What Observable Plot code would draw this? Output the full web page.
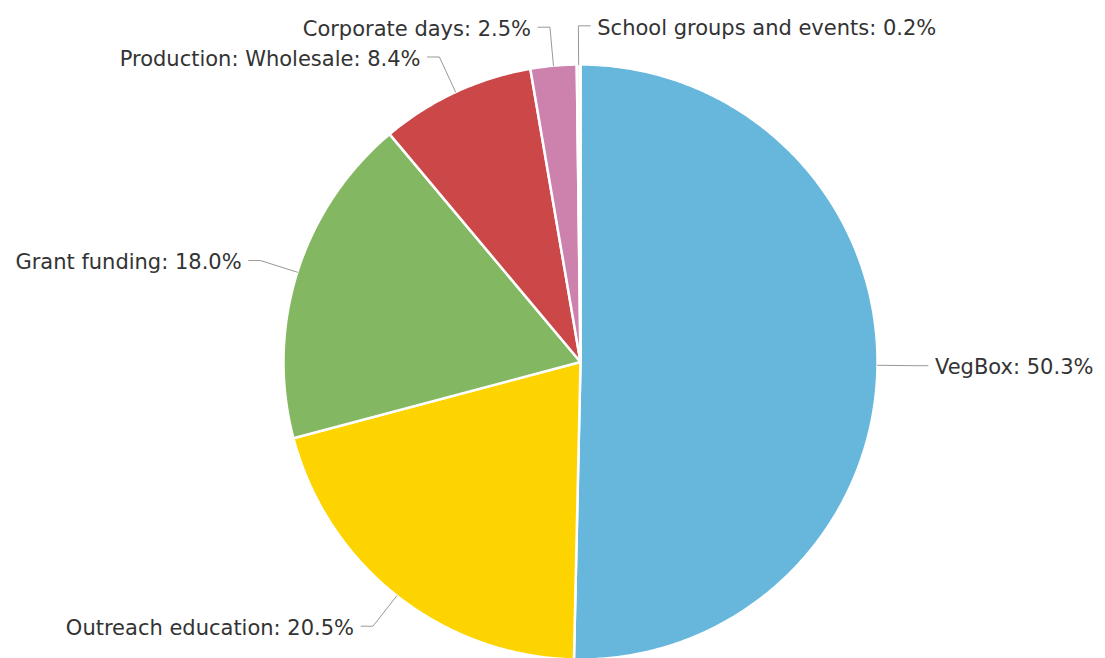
<!DOCTYPE html>
<html><head><meta charset="utf-8">
<script src="https://cdn.jsdelivr.net/npm/d3@7"></script>
<script src="https://cdn.jsdelivr.net/npm/@observablehq/plot@0.6"></script>
<style>body{margin:0;background:#fff;}</style>
</head><body><div id="chart"></div>
<script>
const categories = ["VegBox", "Outreach education", "Grant funding", "Production: Wholesale", "Corporate days", "School groups and events"];
const values = [50.3, 20.5, 18.0, 8.4, 2.5, 0.2];
const colors = ["#67b7dc", "#fdd400", "#84b761", "#cc4748", "#cd82ad", "#f6f6f6"];

const total = d3.sum(values);
let acc = 0;
const slices = categories.map((name, i) => {
  const start = acc / total * 2 * Math.PI;
  acc += values[i];
  const end = acc / total * 2 * Math.PI;
  return {name, value: values[i], start, end, mid: (start + end) / 2};
});

// polygon outline of each slice (unit circle, angle clockwise from top)
const polyPoints = [];
for (const s of slices) {
  polyPoints.push({name: s.name, x: 0, y: 0});
  const n = Math.max(2, Math.ceil((s.end - s.start) / (Math.PI / 360)));
  for (let k = 0; k <= n; k++) {
    const a = s.start + (s.end - s.start) * k / n;
    polyPoints.push({name: s.name, x: Math.sin(a), y: Math.cos(a)});
  }
  polyPoints.push({name: s.name, x: 0, y: 0});
}

// label layout
const R1 = 1.13, SEG = 0.04;
const labelInfo = slices.map(s => ({
  ...s,
  side: Math.sin(s.mid) >= 0 ? 1 : -1,
  ey: R1 * Math.cos(s.mid),
  ex: R1 * Math.sin(s.mid)
}));
// resolve collisions near top on the left side by flipping to the right
const left = labelInfo.filter(d => d.side < 0).sort((a, b) => b.ey - a.ey);
for (let i = 0; i < left.length - 1; i++) {
  const a = left[i], b = left[i + 1];
  if (Math.abs(a.ey - b.ey) < 0.08) {
    const flip = Math.abs(Math.sin(a.mid)) < Math.abs(Math.sin(b.mid)) ? a : b;
    flip.side = 1;
  }
}
const leaderPoints = [];
for (const d of labelInfo) {
  leaderPoints.push({name: d.name, x: Math.sin(d.mid), y: Math.cos(d.mid)});
  leaderPoints.push({name: d.name, x: d.ex, y: d.ey});
  leaderPoints.push({name: d.name, x: d.ex + d.side * SEG, y: d.ey});
}
const textData = labelInfo.map(d => ({
  x: d.ex + d.side * SEG, y: d.ey, side: d.side,
  text: `${d.name}: ${d.value.toFixed(1)}%`
}));

const chart = Plot.plot({
  width: 1105,
  height: 658,
  margin: 0,
  x: {domain: [-1, 1], range: [283, 877], axis: null},
  y: {domain: [-1, 1], range: [659, 64], axis: null},
  color: {domain: categories, range: colors},
  style: {fontFamily: "'DejaVu Sans', Verdana, sans-serif", background: "#fff"},
  marks: [
    Plot.line(polyPoints, {x: "x", y: "y", z: "name", fill: "name", stroke: "#fff", strokeWidth: 2.5, strokeLinejoin: "round", curve: "linear"}),
    Plot.line(leaderPoints, {x: "x", y: "y", z: "name", stroke: "#999", strokeWidth: 1, curve: "linear"}),
    Plot.text(textData.filter(d => d.side > 0), {x: "x", y: "y", text: "text", textAnchor: "start", dx: 7, dy: 2, fontSize: 21, fill: "#333"}),
    Plot.text(textData.filter(d => d.side < 0), {x: "x", y: "y", text: "text", textAnchor: "end", dx: -7, dy: 2, fontSize: 21, fill: "#333"})
  ]
});
document.getElementById("chart").appendChild(chart);
</script>
</body></html>
